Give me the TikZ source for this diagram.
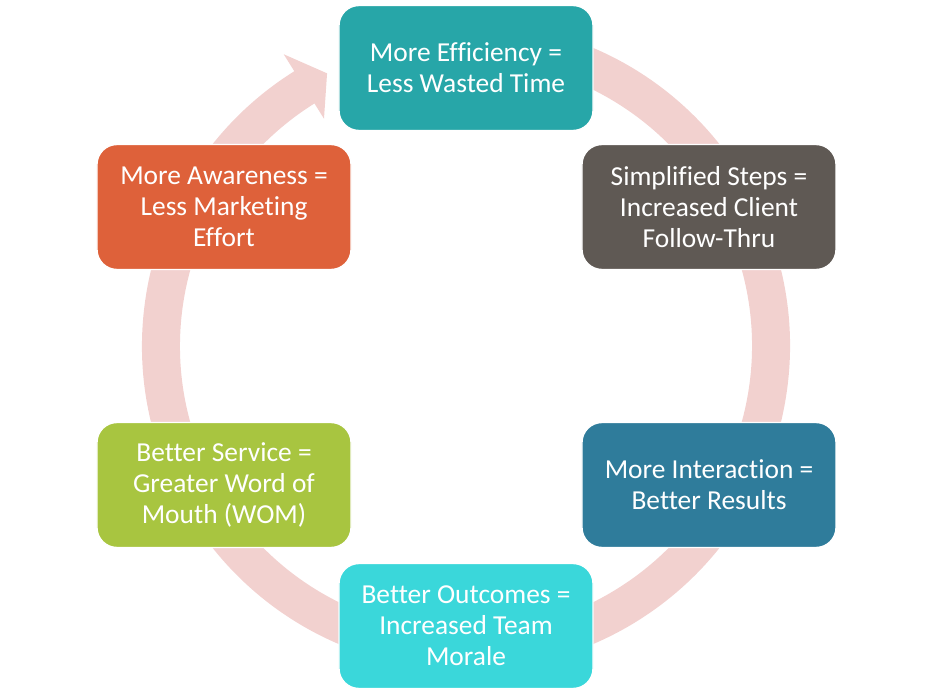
\documentclass[tikz,border=0pt]{standalone}
\usepackage{fontspec}
\setmainfont{Carlito}[Ligatures=CommonOff]
\usepackage{tikz}
\usetikzlibrary{calc,positioning}

\definecolor{effteal}{HTML}{27A6A8}
\definecolor{stepgray}{HTML}{5F5954}
\definecolor{interblue}{HTML}{2F7C9B}
\definecolor{outcyan}{HTML}{3AD7DA}
\definecolor{servgreen}{HTML}{A8C540}
\definecolor{awareorange}{HTML}{DE613A}
\definecolor{cyclepink}{HTML}{F2D1CF}

\begin{document}
\begin{tikzpicture}[x=0.025cm,y=0.025cm,
    box/.style={draw=white, line width=1pt, rounded corners=0.5cm,
      minimum width=6.35cm, minimum height=3.125cm, align=center,
      text=white, font=\fontsize{19.5}{22}\selectfont}]

    \useasboundingbox (0,0) rectangle (931,691);

    % the big cycle arrow, behind the boxes
    \begin{scope}[shift={(466,345)}]
      \fill[cyclepink] (80:324) arc[start angle=80, end angle=-238, radius=324]
        -- (122:344) -- (117:306) -- (122:268) -- (122:286)
        arc[start angle=-238, end angle=80, radius=286] -- cycle;
    \end{scope}

    \node (efficiency) at (466,623) [box, fill=effteal] {More Efficiency =\\Less Wasted Time};
    \node (steps) at (709,484) [box, fill=stepgray] {Simplified Steps =\\Increased Client\\Follow-Thru};
    \node (interaction) at (709,206) [box, fill=interblue] {More Interaction =\\Better Results};
    \node (outcomes) at (466,65) [box, fill=outcyan] {Better Outcomes =\\Increased Team\\Morale};
    \node (service) at (224,206) [box, fill=servgreen] {Better Service =\\Greater Word of\\Mouth (WOM)};
    \node (awareness) at (224,484) [box, fill=awareorange] {More Awareness =\\Less Marketing\\Effort};

\end{tikzpicture}
\end{document}
